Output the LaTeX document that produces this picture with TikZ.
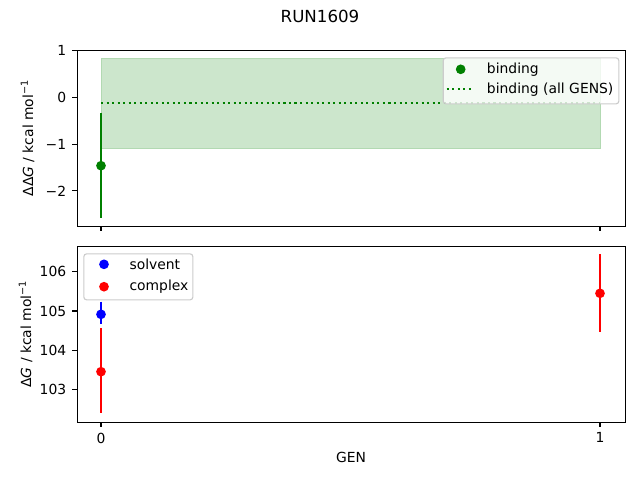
\documentclass[tikz,border=0pt]{standalone}
\usepackage{fontspec}
\setmainfont{DejaVu Sans}
\definecolor{mplgreen}{RGB}{0,128,0}
\definecolor{bandgreen}{RGB}{204,230,204}
\definecolor{bandedge}{RGB}{178,217,178}
\definecolor{legedge}{gray}{0.8}
\begin{document}
\begin{tikzpicture}[x=0.72pt,y=-0.72pt,
  axisbox/.style={line width=0.8pt,draw=black},
  tickline/.style={line width=0.8pt},
  ticklab/.style={font=\fontsize{10}{12}\selectfont,inner sep=0pt},
  errbar/.style={line width=1.5pt},
  dotmark/.style={circle,inner sep=0pt,minimum size=7pt},
  legbox/.style={draw=legedge,line width=0.8pt,fill=white,fill opacity=0.8,rounded corners=2pt},
  legtxt/.style={font=\fontsize{10}{12}\selectfont,inner sep=0pt,anchor=base west},
  ylab/.style={font=\fontsize{10}{12}\selectfont,inner sep=0pt,rotate=90,anchor=base}]
\useasboundingbox (0,0) rectangle (640,480);
\fill[white] (0,0) rectangle (640,480);
% title
\node[font=\fontsize{12}{14}\selectfont,inner sep=0pt,anchor=base] (title) at (320,22) {RUN1609};
% ===== top axes =====
\fill[bandgreen] (101,58.3) rectangle (600,148.7);
\draw[bandedge,line width=0.6pt] (101,58.3) rectangle (600,148.7);
\coordinate (dotA) at (101,102.7);
\coordinate (dotB) at (600,102.7);
\draw[mplgreen,line width=1.5pt,dash pattern=on 1.5pt off 2.48pt] (dotA) -- (dotB);
\coordinate (bt) at (101,112.7);
\coordinate (bb) at (101,217.7);
\draw[errbar,mplgreen] (bt) -- (bb);
\node[dotmark,fill=mplgreen] (bind0) at (101,165.7) {};
\node[axisbox,minimum width=548*0.72pt,minimum height=176*0.72pt,inner sep=0pt,anchor=north west] (axtop) at (77,50) {};
% y ticks top
\foreach \v/\lab in {1/1,0/0,-1/{−1},-2/{−2}}{
  \draw[tickline] (77,{97.3-46.8*\v}) -- ++(-4.86,0);
  \node[ticklab,anchor=east] at (66.5,{97.3-46.8*\v}) {\lab};
}
% x ticks top (no labels)
\draw[tickline] (101,226) -- ++(0,4.86);
\draw[tickline] (600,226) -- ++(0,4.86);
\node[ylab] (ylabtop) at (33,138) {ΔΔ\textit{G} / kcal mol\textsuperscript{−1}};
% legend top
\node[legbox,minimum width=175.6*0.72pt,minimum height=46*0.72pt,inner sep=0pt,anchor=north west] (legtop) at (442.7,57.3) {};
\node[dotmark,fill=mplgreen] (legbind) at (460.7,69.3) {};
\coordinate (ldA) at (446.7,89.3);
\coordinate (ldB) at (474.3,89.3);
\draw[mplgreen,line width=1.5pt,dash pattern=on 1.5pt off 2.48pt] (ldA) -- (ldB);
\node[legtxt] (lt1) at (486.7,73.3) {binding};
\node[legtxt] (lt2) at (486.7,93.3) {binding (all GENS)};
% ===== bottom axes =====
\coordinate (st) at (101,301.7);
\coordinate (sb) at (101,324.3);
\draw[errbar,blue] (st) -- (sb);
\node[dotmark,fill=blue] (solv0) at (101,314.3) {};
\coordinate (ct) at (101,328.3);
\coordinate (cb) at (101,413.3);
\draw[errbar,red] (ct) -- (cb);
\node[dotmark,fill=red] (comp0) at (101,371.7) {};
\coordinate (c1t) at (600,254);
\coordinate (c1b) at (600,331.7);
\draw[errbar,red] (c1t) -- (c1b);
\node[dotmark,fill=red] (comp1) at (600,293.3) {};
\node[axisbox,minimum width=548*0.72pt,minimum height=176.3*0.72pt,inner sep=0pt,anchor=north west] (axbot) at (77,246) {};
\foreach \v in {103,104,105,106}{
  \draw[tickline] (77,{311-39.4*(\v-105)}) -- ++(-4.86,0);
  \node[ticklab,anchor=east] at (66.5,{311-39.4*(\v-105)}) {\v};
}
\foreach \d/\lab in {0/0,1/1}{
  \draw[tickline] ({101+499*\d},422.3) -- ++(0,4.86);
  \node[ticklab,anchor=north] at ({101+499*\d},432.5) {\lab};
}
\node[font=\fontsize{10}{12}\selectfont,inner sep=0pt,anchor=base] (xlab) at (351,462) {GEN};
\node[ylab] (ylabbot) at (31,334) {Δ\textit{G} / kcal mol\textsuperscript{−1}};
% legend bottom
\node[legbox,minimum width=109*0.72pt,minimum height=46*0.72pt,inner sep=0pt,anchor=north west] (legbot) at (83.3,253.3) {};
\node[dotmark,fill=blue] (legsolv) at (104,264.3) {};
\node[dotmark,fill=red] (legcomp) at (104,286.7) {};
\node[legtxt] (lt3) at (129.3,269) {solvent};
\node[legtxt] (lt4) at (129.3,290.7) {complex};
\end{tikzpicture}
\end{document}
